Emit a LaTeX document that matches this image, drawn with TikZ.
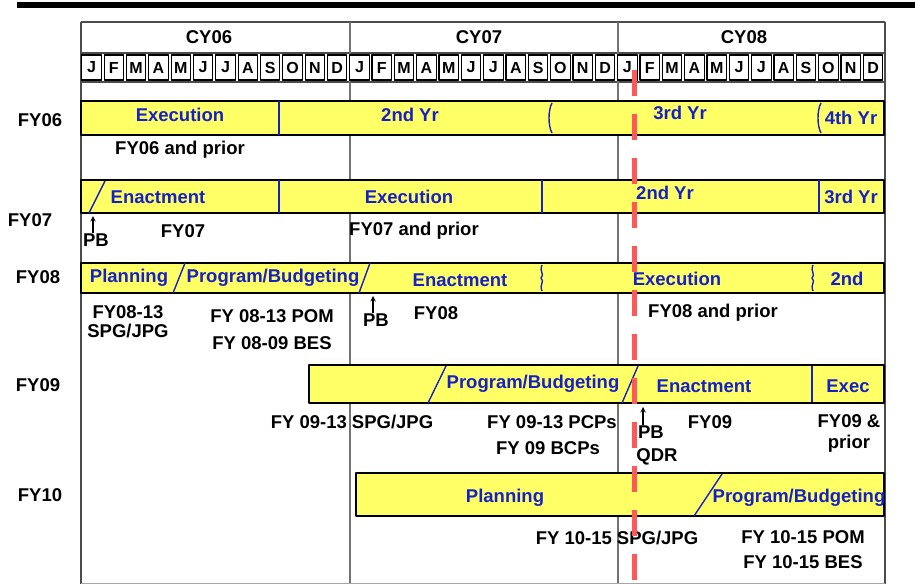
\documentclass[tikz,border=0pt]{standalone}
\usepackage{fontspec}
\setmainfont{Liberation Sans}
\definecolor{baryellow}{RGB}{255,255,102}
\definecolor{barblue}{RGB}{22,32,200}
\definecolor{nowred}{RGB}{255,88,88}
\begin{document}
\begin{tikzpicture}[x=1pt, y=-1pt, font=\fontsize{18.5}{20}\selectfont\bfseries, line join=round, >=stealth,
  bar/.style={draw=black, line width=2pt, fill=baryellow},
  phase/.style={text=barblue, inner sep=0pt},
  txt/.style={inner sep=0pt, align=center},
  sep/.style={draw=barblue, line width=1.4pt},
  grid/.style={draw=black!70, line width=1.6pt},
  mbox/.style={draw=black, line width=1.1pt, fill=white, minimum width=19.5pt, minimum height=25pt, inner sep=0pt, font=\fontsize{16}{18}\selectfont\bfseries}]
	\useasboundingbox (0,0) rectangle (915,584);
	\draw[line width=6pt] (17,5) -- (915,5);
	% table grid
	\draw[grid] (81,22) -- (885,22) (81,53) -- (885,53) (81,82) -- (885,82);
	\draw[grid] (81,22) -- (81,584) (885,22) -- (885,584);
	\draw[grid, draw=black!55] (350,22) -- (350,584) (618,22) -- (618,584);
	\draw[black!35, line width=1pt] (81,583) -- (885,583);
	\node[txt] (cy06) at (209,37) {CY06};
	\node[txt] (cy07) at (479,37) {CY07};
	\node[txt] (cy08) at (744,37) {CY08};
	\foreach \m [count=\i from 0] in {J,F,M,A,M,J,J,A,S,O,N,D,J,F,M,A,M,J,J,A,S,O,N,D,J,F,M,A,M,J,J,A,S,O,N,D}
		\node[mbox] (m\i) at ({81+22.33*\i+10.5},67.5) {\m};
	% fiscal years
	\node[txt] (fy06) at (40,120) {FY06};
	\node[txt] (fy07) at (30,220) {FY07};
	\node[txt] (fy08) at (38,277) {FY08};
	\node[txt] (fy09) at (38,385) {FY09};
	\node[txt] (fy10) at (40,495) {FY10};
	% FY06
	\draw[bar] (81,101) rectangle (884,135);
	\draw[sep] (279,101) -- (279,135);
	\draw[sep] (552,103) .. controls (548,110) and (548,126) .. (552,133);
	\draw[sep] (821,103) .. controls (817,110) and (817,126) .. (821,133);
	\node[phase] (ex06) at (180,115) {Execution};
	\node[phase] (yr06b) at (410,115) {2nd Yr};
	\node[phase] (yr06c) at (680,113) {3rd Yr};
	\node[phase] (yr06d) at (851,118) {4th Yr};
	\node[txt] (pr06) at (180,150) {FY06 and prior};
	% FY07
	\draw[bar] (81,180) rectangle (884,213);
	\draw[sep] (89,213) -- (105,181);
	\draw[sep] (279,180) -- (279,213) (542,180) -- (542,213) (819,180) -- (819,213);
	\node[phase] (en07) at (158,197) {Enactment};
	\node[phase] (ex07) at (409,197) {Execution};
	\node[phase] (yr07b) at (665,193) {2nd Yr};
	\node[phase] (yr07c) at (851,197) {3rd Yr};
	\node[txt] (pb07) at (96,240) {PB};
	\coordinate (pb07top) at (93,216);
	\draw[->, line width=1.4pt] (pb07.north -| pb07top) -- (pb07top);
	\node[txt] (bud07) at (183,231) {FY07};
	\node[txt, anchor=west] (pr07) at (349,231) {FY07 and prior};
	% FY08
	\draw[bar] (81,263) rectangle (884,293);
	\draw[sep] (173,293) -- (185,263) (359,293) -- (370,263);
	\draw[sep] (542,265) .. controls (539,272) and (545,274) .. (541,278) .. controls (545,282) and (539,284) .. (542,291);
	\draw[sep] (813,265) .. controls (810,272) and (816,274) .. (812,278) .. controls (816,282) and (810,284) .. (813,291);
	\node[phase] (pl08) at (129,278) {Planning};
	\node[phase] (pg08) at (273,278) {Program/Budgeting};
	\node[phase] (en08) at (460,280) {Enactment};
	\node[phase] (ex08) at (677,279) {Execution};
	\node[phase] (yr08b) at (847,279) {2nd};
	\node[txt] (spg08) at (128,322) {FY08-13\\[-1pt]SPG/JPG};
	\node[txt] (pom08) at (272,316) {FY 08-13 POM};
	\node[txt] (bes08) at (272,343) {FY 08-09 BES};
	\node[txt] (pb08) at (376,320) {PB};
	\coordinate (pb08top) at (373,296);
	\draw[->, line width=1.4pt] (pb08.north -| pb08top) -- (pb08top);
	\node[txt] (bud08) at (436,313) {FY08};
	\node[txt] (pr08) at (713,313) {FY08 and prior};
	% FY09
	\draw[bar] (309,365) rectangle (884,403);
	\draw[sep] (428,403) -- (446,366) (622,403) -- (638,366);
	\draw[sep] (812,366) -- (812,402);
	\node[phase] (pg09) at (533,384) {Program/Budgeting};
	\node[phase] (en09) at (704,386) {Enactment};
	\node[phase] (ex09) at (848,386) {Exec};
	\node[txt] (spg09) at (352,422) {FY 09-13 SPG/JPG};
	\node[txt] (pcp09) at (552,422) {FY 09-13 PCPs};
	\node[txt] (bcp09) at (548,448) {FY 09 BCPs};
	\node[txt] (pb09) at (651,432) {PB};
	\node[txt] (qdr09) at (657,457) {QDR};
	\coordinate (pb09top) at (643,407);
	\draw[->, line width=1.4pt] (pb09.north -| pb09top) -- (pb09top);
	\node[txt] (bud09) at (710,422) {FY09};
	\node[txt] (pr09) at (849,433) {FY09 \&\\[1pt]prior};
	% FY10
	\draw[bar] (356,473) rectangle (884,516);
	\draw[sep] (694,516) -- (722,474);
	\node[phase] (pl10) at (505,498) {Planning};
	\node[phase] (pg10) at (799,498) {Program/Budgeting};
	\node[txt] (spg10) at (617,538) {FY 10-15 SPG/JPG};
	\node[txt] (pom10) at (803,537) {FY 10-15 POM};
	\node[txt] (bes10) at (803,562) {FY 10-15 BES};
	% today
	\draw[nowred, line width=5pt, dash pattern=on 26pt off 18pt] (634,70) -- (634,584);
\end{tikzpicture}
\end{document}
